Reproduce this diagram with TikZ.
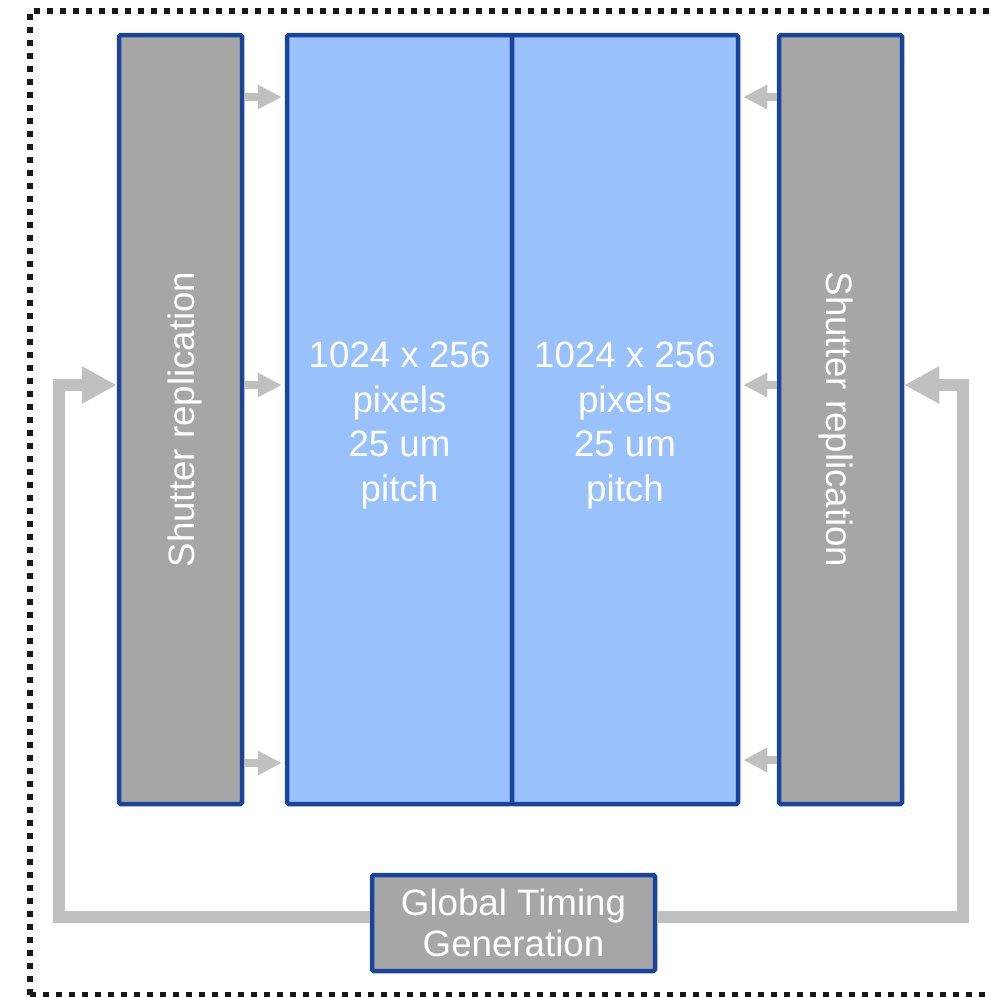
\documentclass[tikz,border=0pt]{standalone}
\usepackage{fontspec}
\setmainfont{Liberation Sans}
\usetikzlibrary{arrows.meta}

\definecolor{edgeblue}{HTML}{1A4499}
\definecolor{shutgrey}{HTML}{A6A6A6}
\definecolor{pixblue}{HTML}{99C1FC}
\definecolor{wiregrey}{HTML}{C0C0C0}

% shift a label off its box centre without changing the box size
\newcommand{\nudge}[2]{\raisebox{#1}[\height][\depth]{#2}}

\tikzset{
  block/.style={draw=edgeblue, line width=4.5pt, rounded corners=1.5pt,
    inner sep=0pt, text=white, align=center,
    font=\fontsize{36.7}{44.5}\selectfont},
  shutter/.style={block, fill=shutgrey, minimum width=123pt, minimum height=769pt},
  pixels/.style={block, fill=pixblue, minimum height=769pt},
  timing/.style={block, fill=shutgrey, minimum width=283pt, minimum height=96pt,
    font=\fontsize{36.7}{41}\selectfont},
  feed/.style={draw=wiregrey, line width=8pt,
    -{Triangle[width=23pt,length=24pt]}, shorten >=3pt},
  loop/.style={draw=wiregrey, line width=12pt, line join=miter,
    -{Triangle[width=35pt,length=35pt]}},
  frame/.style={draw=black!90, line width=6pt, dash pattern=on 6pt off 7pt}
}

\begin{document}
\begin{tikzpicture}[x=1pt, y=-1pt]
  \useasboundingbox (0,0) rectangle (991,997);

  % dotted outline of the chip area
  \draw[frame] (30,995) -- (30,11) -- (1000,11);
  \draw[frame] (30,995) -- (1000,995);

  % shutter replication columns
  \node[shutter] (sl) at (180.5,419.5)
    {\rotatebox{90}{\nudge{-4.5pt}{Shutter replication}}};
  \node[shutter] (sr) at (840.5,419.5)
    {\rotatebox{-90}{\nudge{-4.5pt}{Shutter replication}}};

  % pixel array halves
  \node[pixels, minimum width=225pt] (pl) at (399.5,419.5)
    {\nudge{-6pt}{\begin{tabular}{@{}c@{}}1024 x 256\\pixels\\25 um\\pitch\end{tabular}}};
  \node[pixels, minimum width=226pt] (pr) at (625,419.5)
    {\nudge{-6pt}{\begin{tabular}{@{}c@{}}1024 x 256\\pixels\\25 um\\pitch\end{tabular}}};

  % timing generator
  \node[timing] (gt) at (513.5,923) {Global Timing\\Generation};

  % shutter distribution into the array
  \foreach \yy in {97,385,763} {
    \draw[feed] (sl.east |- 0,\yy) -- (pl.west |- 0,\yy);
  }
  \foreach \yy in {97,385,760} {
    \draw[feed] (sr.west |- 0,\yy) -- (pr.east |- 0,\yy);
  }

  % timing feeds to both shutter columns
  \coordinate (cl) at (59,917);
  \coordinate (cr) at (963,917);
  \draw[loop] (gt.west |- cl) -- (cl) -- (59,385) -- (sl.west |- 0,385);
  \draw[loop] (gt.east |- cr) -- (cr) -- (963,385) -- (sr.east |- 0,385);
\end{tikzpicture}
\end{document}
